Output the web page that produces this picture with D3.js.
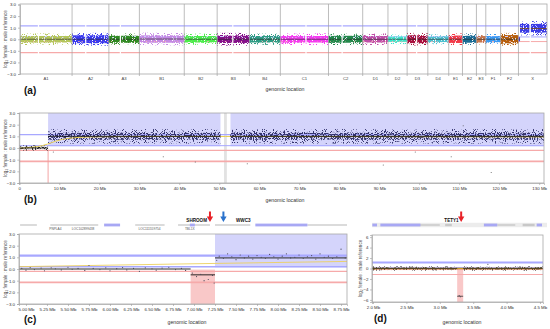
<!DOCTYPE html>
<html>
<head>
<meta charset="utf-8">
<script src="https://cdn.jsdelivr.net/npm/d3@7"></script>
<style>
  body { margin: 0; background: #fff; }
  svg { display: block; font-family: "Liberation Sans", Arial, sans-serif; }
</style>
</head>
<body>
<svg id="fig" width="550" height="329"></svg>
<script>
// ---- panel (a): whole genome, one cloud per chromosome ----
const chromosomes  = ["A1","A2","A3","B1","B2","B3","B4","C1","C2","D1","D2","D3","D4","E1","E2","E3","F1","F2","X"];
const chromLengths = [239,169,140,206,151,148,142,221,157,116,88,95,96,63,64,43,68,82,131];
const chromColors  = ["#b4c65c","#3a3aee","#2f8a22","#c48ae4","#4ced4c","#85108a","#2f9c84","#f43cef","#22884a",
                      "#c050a8","#40e6cc","#a8103e","#4cc2d0","#f23a48","#1a6c94","#c6784e","#3a9af2","#b65f0c","#3b3be6"];
const chromMeans   = [0,0,0,0.02,0,0,0,0,0,0,0,0,0,0,0,0,0,0,1.0];
const chromInner   = [0.28,0.34,0.3,0.32,0.28,0.32,0.28,0.28,0.3,0.28,0.22,0.34,0.24,0.32,0.3,0.28,0.26,0.36,0.35];
const chromOuter   = [0.5,0.55,0.5,0.55,0.48,0.55,0.48,0.5,0.5,0.5,0.42,0.55,0.44,0.5,0.5,0.45,0.46,0.55,0.65];
const chromGaps    = [["A1",82],["A2",60],["A3",50],["B3",69],["C1",115],["C2",60],["D3",41],["X",51.5]];

// ---- panel (b): X chromosome ----
// start Mb, end Mb, mean, dense half-width, sparse half-width
const xSegments = [[0,7.2,0,0.1,0.22],[7.2,50.3,1.0,0.3,0.62],[52.8,131.2,1.0,0.3,0.62]];
const xGain     = [[7.2,50.3],[52.8,131.2]];
const xAsmGap   = [[51.2,51.9]];
const xExpected = [[0,0],[3,0.03],[6,0.2],[8,0.45],[10,0.7],[13,0.88],[18,0.97],[40,1.0],[131.2,0.95]];
const xOutliers = [[8.5,-0.35],[36,-0.75],[44,-1.2],[57,-1.35],[91,-1.45],[99,-0.35],[108,-0.75],[111,1.9],[118,-2.1]];
const xTicks    = [0,10,20,30,40,50,60,70,80,90,100,110,120,130];

// ---- panel (c): SHROOM2 / WWC3 region ----
const cSegments = [[4.917,6.96,0],[6.96,7.25,-0.5],[7.25,8.821,0.95]];
const cLoss     = [[6.96,7.25]];
const cGain     = [[7.25,8.821]];
const cExpected = [[4.917,0.2],[7.0,0.45],[8.821,0.65]];
const cPoints   = [[4.95,0.05],[5.0,-0.1],[5.05,0.12],[5.1,-0.05],[5.18,0.08],[5.22,-0.15],[5.3,0.1],[5.35,0.02],
                   [5.42,-0.08],[5.5,0.15],[5.55,-0.02],[5.62,0.05],[5.7,-0.12],[5.75,0.3],[5.8,0.05],[5.88,-0.05],
                   [5.95,0.1],[6.0,-0.15],[6.08,0.03],[6.15,0.12],[6.2,-0.08],[6.28,0.05],[6.35,-0.2],[6.42,0.1],
                   [6.5,0.02],[6.55,-0.1],[6.62,0.08],[6.7,0.15],[6.78,-0.05],[6.85,0.05],[6.9,-0.12],
                   [6.98,-0.35],[7.03,-0.65],[7.08,-0.45],[7.12,-1.0],[7.17,-0.9],[7.22,-0.55],[7.24,-1.2],
                   [7.27,0.75],[7.3,1.1],[7.35,0.9],[7.4,1.3],[7.45,1.05],[7.5,0.8],[7.55,1.2],[7.6,0.95],
                   [7.65,1.1],[7.7,0.85],[7.75,1.15],[7.8,1.0],[7.85,0.9],[7.9,1.25],[7.95,1.05],[8.0,0.85],
                   [8.05,1.1],[8.1,1.3],[8.15,0.95],[8.2,1.0],[8.25,1.2],[8.3,0.9],[8.35,1.05],[8.4,1.15],
                   [8.45,0.85],[8.5,1.3],[8.55,1.0],[8.6,1.1],[8.65,0.9],[8.7,1.05],[8.75,1.7],[8.8,0.95]];
const cTicks    = [5,5.25,5.5,5.75,6,6.25,6.5,6.75,7,7.25,7.5,7.75,8,8.25,8.5,8.75];
const cGeneLines = [[4.93,5.13],[5.29,5.86],[6.3,6.65],[6.81,7.19],[7.25,7.67],[8.35,8.821]];
const cGeneBoxes = [[5.93,6.12],[6.95,7.01],[7.73,8.35]];
const cGeneNames = [["PNPLA4",5.35],["LOC102899438",5.68],["LOC111559754",6.47],["TBL1X",6.95]];

// ---- panel (d): TETY1 region ----
const dSegments = [[1.985,3.26,0],[3.26,3.35,-5.3],[3.35,4.545,0]];
const dLoss     = [[3.26,3.35]];
const dOutliers = [[2.1,-0.3],[2.55,0.35],[2.9,-0.3],[3.72,0.8],[4.2,0.35],[3.29,-5.2],[3.31,-5.4]];
const dTicks    = [2,2.5,3,3.5,4,4.5];
const dGeneLines = [[2.7,3.0],[3.86,4.13]];
const dGeneBoxes = [[1.99,2.06],[2.11,2.71],[3.66,3.86],[4.45,4.53]];
const dGeneGray  = [[3.08,3.18],[4.24,4.42]];

// ratio thresholds drawn in every panel
const thresholds      = [1.15, 0.2, -0.2, -1.15];
const thresholdColors = ["#a8a8ff", "#a8a8ff", "#f6aaaa", "#f6aaaa"];

const svg  = d3.select('#fig');
const defs = svg.append('defs');

function addSpeckle(id, cut) {
  var f = defs.append('filter').attr('id', id)
    .attr('x', 0).attr('y', 0).attr('width', 1).attr('height', 1)
    .attr('color-interpolation-filters', 'sRGB');
  f.append('feTurbulence').attr('type', 'fractalNoise').attr('baseFrequency', 0.9)
    .attr('numOctaves', 1).attr('seed', 4).attr('result', 'noise');
  f.append('feColorMatrix').attr('in', 'noise').attr('type', 'matrix')
    .attr('values', '0 0 0 0 0  0 0 0 0 0  0 0 0 0 0  16 0 0 0 ' + (-16 * cut))
    .attr('result', 'mask');
  f.append('feComposite').attr('in', 'SourceGraphic').attr('in2', 'mask').attr('operator', 'in');
}
addSpeckle('dense', 0.36);
addSpeckle('medium', 0.47);
addSpeckle('sparse', 0.58);

function styleAxis(g) {
  g.select('.domain').attr('stroke', '#9a9a9a').attr('stroke-width', 0.6);
  g.selectAll('.tick line').attr('stroke', '#9a9a9a').attr('stroke-width', 0.6);
  g.selectAll('.tick text').attr('font-size', 4.4).attr('fill', '#333');
}

function frame(X0, X1, Y0, Y1) {
  svg.append('rect').attr('x', X0).attr('y', Y0).attr('width', X1 - X0).attr('height', Y1 - Y0)
    .attr('fill', 'none').attr('stroke', '#a8a8a8').attr('stroke-width', 0.8);
}

function yLabel(xpos, Y0, Y1) {
  svg.append('text')
    .attr('transform', 'translate(' + xpos + ',' + ((Y0 + Y1) / 2) + ') rotate(-90)')
    .attr('text-anchor', 'middle').attr('font-size', 4.6).attr('fill', '#444')
    .text('log\u2082 female : male reference');
}

function captions(letter, lx, ly, cx, cy) {
  svg.append('text').attr('x', lx).attr('y', ly).attr('font-size', 10).attr('font-weight', 'bold')
    .attr('fill', '#111').text(letter);
  svg.append('text').attr('x', cx).attr('y', cy).attr('text-anchor', 'middle').attr('font-size', 5.2)
    .attr('fill', '#333').text('genomic location');
}

function thresholdLines(g, x, y, w) {
  thresholds.forEach(function (t, i) {
    g.append('line').attr('x1', x.range()[0]).attr('x2', x.range()[1])
      .attr('y1', y(t)).attr('y2', y(t))
      .attr('stroke', thresholdColors[i]).attr('stroke-width', w[i]);
  });
}

function cloud(g, x, y, x0, x1, mean, inner, outer, color, innerFilter) {
  g.append('rect').attr('x', x(x0)).attr('width', Math.max(0.5, x(x1) - x(x0)))
    .attr('y', y(mean + outer)).attr('height', y(mean - outer) - y(mean + outer))
    .attr('fill', color).attr('filter', 'url(#sparse)');
  g.append('rect').attr('x', x(x0)).attr('width', Math.max(0.5, x(x1) - x(x0)))
    .attr('y', y(mean + inner)).attr('height', y(mean - inner) - y(mean + inner))
    .attr('fill', color).attr('filter', 'url(#' + (innerFilter || 'dense') + ')');
}

function arrow(cx, color) {
  svg.append('path')
    .attr('d', 'M' + (cx - 1) + ',211.5 h2 v5 h2.2 l-3.2,5.5 l-3.2,-5.5 h2.2 z')
    .attr('fill', color);
}

// ================= (a) =================
const starts = [0];
chromLengths.forEach(function (l, i) { starts.push(starts[i] + l); });
const total = starts[starts.length - 1];
const xA = d3.scaleLinear().domain([0, total]).range([20, 547]);
const yA = d3.scaleLinear().domain([-3, 3]).range([74, 4.5]);
const gA = svg.append('g');

thresholdLines(gA, xA, yA, [1.3, 1, 1, 1.3]);

chromosomes.forEach(function (c, i) {
  if (c === 'X') {
    xSegments.forEach(function (s) {
      cloud(gA, xA, yA, starts[i] + s[0], starts[i] + Math.min(s[1], chromLengths[i]),
        s[2] * 0.95, s[3] + 0.08, s[4], chromColors[i], 'dense');
    });
    xSegments.forEach(function (s) {
      gA.append('line').attr('x1', xA(starts[i] + s[0])).attr('x2', xA(starts[i] + Math.min(s[1], chromLengths[i])))
        .attr('y1', yA(s[2] * 0.92)).attr('y2', yA(s[2] * 0.92)).attr('stroke', '#7a4a10').attr('stroke-width', 0.8);
    });
  } else {
    cloud(gA, xA, yA, starts[i], starts[i + 1], chromMeans[i], chromInner[i], chromOuter[i], chromColors[i]);
    gA.append('line').attr('x1', xA(starts[i])).attr('x2', xA(starts[i + 1]))
      .attr('y1', yA(chromMeans[i])).attr('y2', yA(chromMeans[i]))
      .attr('stroke', '#222').attr('stroke-width', 0.6);
  }
});

chromGaps.forEach(function (gp) {
  var i = chromosomes.indexOf(gp[0]);
  gA.append('rect').attr('x', xA(starts[i] + gp[1])).attr('width', 1.2)
    .attr('y', yA(1.7)).attr('height', yA(-1.7) - yA(1.7)).attr('fill', '#fff');
});

starts.slice(1, -1).forEach(function (s) {
  gA.append('line').attr('x1', xA(s)).attr('x2', xA(s)).attr('y1', 4).attr('y2', 76)
    .attr('stroke', '#a0a0a0').attr('stroke-width', 0.7);
});

chromosomes.forEach(function (c, i) {
  gA.append('text').attr('x', xA((starts[i] + starts[i + 1]) / 2)).attr('y', 79.5)
    .attr('text-anchor', 'middle').attr('font-size', 4.2).attr('fill', '#444').text(c);
});

gA.append('g').attr('transform', 'translate(20,0)')
  .call(d3.axisLeft(yA).tickValues([-3, -2, -1, 0, 1, 2, 3]).tickSize(2).tickPadding(2))
  .call(styleAxis);
frame(20, 547, 4, 74);
yLabel(7, 4, 74);
captions('(a)', 24, 94, 285, 91);

// ================= (b) =================
const xB = d3.scaleLinear().domain([0, 131.2]).range([19.3, 544]);
const yB = d3.scaleLinear().domain([-3, 3]).range([183, 113]);
const gB = svg.append('g');

xGain.forEach(function (r) {
  gB.append('rect').attr('x', xB(r[0])).attr('width', xB(r[1]) - xB(r[0]))
    .attr('y', yB(3)).attr('height', yB(0.15) - yB(3)).attr('fill', '#d4d4fb');
});
xAsmGap.forEach(function (r) {
  gB.append('rect').attr('x', xB(r[0])).attr('width', xB(r[1]) - xB(r[0]))
    .attr('y', yB(3)).attr('height', yB(-3) - yB(3)).attr('fill', '#e2e2e2');
});
thresholdLines(gB, xB, yB, [1.3, 1, 1.3, 1.8]);
gB.append('line').attr('x1', xB(7.2)).attr('x2', xB(7.2)).attr('y1', yB(-0.15)).attr('y2', yB(-3))
  .attr('stroke', '#f29a9a').attr('stroke-width', 0.9);

xSegments.forEach(function (s) {
  cloud(gB, xB, yB, s[0], s[1], s[2], s[3], s[4], s[2] > 0.5 ? '#34346e' : '#333', 'medium');
});
gB.append('path').datum(xExpected)
  .attr('fill', 'none').attr('stroke', '#e8cc40').attr('stroke-width', 0.9)
  .attr('d', d3.line().x(function (d) { return xB(d[0]); }).y(function (d) { return yB(d[1]); }).curve(d3.curveBasis));
xSegments.forEach(function (s) {
  gB.append('line').attr('x1', xB(s[0])).attr('x2', xB(s[1])).attr('y1', yB(s[2])).attr('y2', yB(s[2]))
    .attr('stroke', '#111').attr('stroke-width', 0.9);
});
gB.selectAll('circle.out').data(xOutliers).enter().append('circle')
  .attr('cx', function (d) { return xB(d[0]); }).attr('cy', function (d) { return yB(d[1]); })
  .attr('r', 0.5).attr('fill', '#555');

gB.append('g').attr('transform', 'translate(19.3,0)')
  .call(d3.axisLeft(yB).tickValues([-3, -2, -1, 0, 1, 2, 3]).tickSize(2).tickPadding(2))
  .call(styleAxis);
gB.append('g').attr('transform', 'translate(0,183)')
  .call(d3.axisBottom(xB).tickValues(xTicks).tickSize(2).tickPadding(1.5)
    .tickFormat(function (d) { return d === 0 ? '0' : d + ' Mb'; }))
  .call(styleAxis);
frame(19.3, 544, 113, 183);
yLabel(7, 113, 183);
captions('(b)', 24, 203, 285, 202);

// ================= (c) =================
const xC = d3.scaleLinear().domain([4.917, 8.821]).range([19, 347]);
const yC = d3.scaleLinear().domain([-3, 3]).range([304, 234]);
const gC = svg.append('g');

cGain.forEach(function (r) {
  gC.append('rect').attr('x', xC(r[0])).attr('width', xC(r[1]) - xC(r[0]))
    .attr('y', yC(3)).attr('height', yC(0.15) - yC(3)).attr('fill', '#d4d4fb');
});
cLoss.forEach(function (r) {
  gC.append('rect').attr('x', xC(r[0])).attr('width', xC(r[1]) - xC(r[0]))
    .attr('y', yC(-0.05)).attr('height', yC(-3) - yC(-0.05)).attr('fill', '#f9c8c8');
});
thresholdLines(gC, xC, yC, [2.2, 1.5, 1.2, 1.8]);
gC.append('path').datum(cExpected)
  .attr('fill', 'none').attr('stroke', '#ecd060').attr('stroke-width', 0.9)
  .attr('d', d3.line().x(function (d) { return xC(d[0]); }).y(function (d) { return yC(d[1]); }));
cSegments.forEach(function (s) {
  gC.append('line').attr('x1', xC(s[0])).attr('x2', xC(s[1])).attr('y1', yC(s[2])).attr('y2', yC(s[2]))
    .attr('stroke', '#111').attr('stroke-width', 0.9);
});
gC.selectAll('circle.pt').data(cPoints).enter().append('circle')
  .attr('cx', function (d) { return xC(d[0]); }).attr('cy', function (d) { return yC(d[1]); })
  .attr('r', 0.6).attr('fill', '#4a4a5a');

gC.append('g').attr('transform', 'translate(19,0)')
  .call(d3.axisLeft(yC).tickValues([-3, -2, -1, 0, 1, 2, 3]).tickSize(2).tickPadding(2))
  .call(styleAxis);
gC.append('g').attr('transform', 'translate(0,304)')
  .call(d3.axisBottom(xC).tickValues(cTicks).tickSize(2).tickPadding(1.5)
    .tickFormat(function (d) { return d.toFixed(2) + ' Mb'; }))
  .call(styleAxis);
frame(19, 347, 234, 304);
yLabel(7, 234, 304);
captions('(c)', 24, 323, 187, 324);

// gene track above (c)
cGeneLines.forEach(function (r) {
  gC.append('line').attr('x1', xC(r[0])).attr('x2', xC(r[1])).attr('y1', 225).attr('y2', 225)
    .attr('stroke', '#888').attr('stroke-width', 0.6);
});
cGeneBoxes.forEach(function (r) {
  gC.append('rect').attr('x', xC(r[0])).attr('width', xC(r[1]) - xC(r[0])).attr('y', 223.6).attr('height', 2.8)
    .attr('fill', '#a8a8f4');
});
cGeneNames.forEach(function (n) {
  gC.append('text').attr('x', xC(n[1])).attr('y', 230).attr('text-anchor', 'middle')
    .attr('font-size', 3.2).attr('fill', '#555').text(n[0]);
});
svg.append('text').attr('x', 207).attr('y', 222).attr('text-anchor', 'end').attr('font-size', 4.6)
  .attr('font-weight', 'bold').attr('fill', '#111').text('SHROOM');
svg.append('text').attr('x', 236).attr('y', 222).attr('font-size', 4.6)
  .attr('font-weight', 'bold').attr('fill', '#111').text('WWC3');
arrow(xC(7.19), '#e82228');
arrow(xC(7.35), '#2a72cc');

// ================= (d) =================
const xD = d3.scaleLinear().domain([1.985, 4.545]).range([372, 543]);
const yD = d3.scaleLinear().domain([-6.4, 6.4]).range([302, 235]);
const gD = svg.append('g');

dLoss.forEach(function (r) {
  gD.append('rect').attr('x', xD(r[0])).attr('width', xD(r[1]) - xD(r[0]))
    .attr('y', yD(0)).attr('height', yD(-6.4) - yD(0)).attr('fill', '#f9c8c8');
});
thresholdLines(gD, xD, yD, [2.2, 1, 1, 1.2]);
dSegments.forEach(function (s) {
  if (s[2] === 0) cloud(gD, xD, yD, s[0], s[1], 0, 0.2, 0.4, '#3c3c3c', 'medium');
});
gD.append('line').attr('x1', 372).attr('x2', 543).attr('y1', yD(0)).attr('y2', yD(0))
  .attr('stroke', '#c89a24').attr('stroke-width', 1.6);
dSegments.forEach(function (s) {
  gD.append('line').attr('x1', xD(s[0])).attr('x2', xD(s[1])).attr('y1', yD(s[2])).attr('y2', yD(s[2]))
    .attr('stroke', '#222').attr('stroke-width', 0.7);
});
gD.selectAll('circle.out').data(dOutliers).enter().append('circle')
  .attr('cx', function (d) { return xD(d[0]); }).attr('cy', function (d) { return yD(d[1]); })
  .attr('r', 0.6).attr('fill', '#4a4a5a');

gD.append('g').attr('transform', 'translate(372,0)')
  .call(d3.axisLeft(yD).tickValues([-6, -4, -2, 0, 2, 4, 6]).tickSize(2).tickPadding(1.5))
  .call(styleAxis);
gD.append('g').attr('transform', 'translate(0,302)')
  .call(d3.axisBottom(xD).tickValues(dTicks).tickSize(2).tickPadding(1.5)
    .tickFormat(function (d) { return d.toFixed(1) + ' Mb'; }))
  .call(styleAxis);
frame(372, 543, 235, 302);
yLabel(362, 235, 302);
captions('(d)', 374, 322, 462, 324);

// gene track above (d)
gD.append('rect').attr('x', 372).attr('width', 175).attr('y', 222.8).attr('height', 4.4).attr('fill', '#ececec');
dGeneLines.forEach(function (r) {
  gD.append('line').attr('x1', xD(r[0])).attr('x2', xD(r[1])).attr('y1', 225).attr('y2', 225)
    .attr('stroke', '#999').attr('stroke-width', 0.6);
});
dGeneGray.forEach(function (r) {
  gD.append('rect').attr('x', xD(r[0])).attr('width', xD(r[1]) - xD(r[0])).attr('y', 223.8).attr('height', 2.4)
    .attr('fill', '#c8c8c8');
});
dGeneBoxes.forEach(function (r) {
  gD.append('rect').attr('x', xD(r[0])).attr('width', xD(r[1]) - xD(r[0])).attr('y', 223.6).attr('height', 2.8)
    .attr('fill', '#a8a8f4');
});
svg.append('text').attr('x', 451.5).attr('y', 222).attr('text-anchor', 'middle').attr('font-size', 4.6)
  .attr('font-weight', 'bold').attr('fill', '#111').text('TETY1');
arrow(xD(3.32), '#e82228');
</script>
</body>
</html>
